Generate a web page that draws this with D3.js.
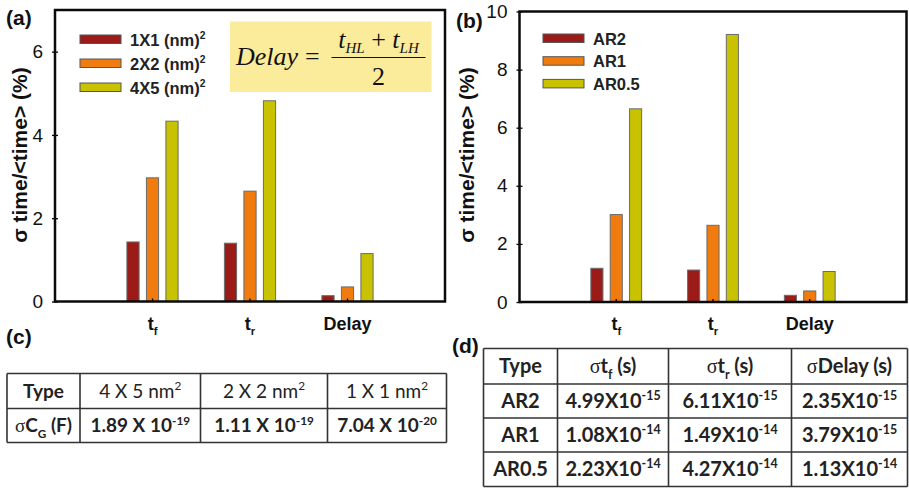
<!DOCTYPE html>
<html><head><meta charset="utf-8">
<script src="https://cdn.jsdelivr.net/npm/d3@7"></script>
<style>
html,body{margin:0;padding:0;background:#fff;}
svg{display:block;}
</style></head>
<body>
<script>
// ---------- DATA ----------
const categories = ["t_{f}", "t_{r}", "Delay"];
const seriesA = ["1X1 (nm)^{2}", "2X2 (nm)^{2}", "4X5 (nm)^{2}"];
const values1x1 = [1.43, 1.40, 0.14];
const values2x2 = [2.97, 2.65, 0.35];
const values4x5 = [4.33, 4.82, 1.15];
const seriesB = ["AR2", "AR1", "AR0.5"];
const valuesAR2 = [1.16, 1.10, 0.23];
const valuesAR1 = [3.01, 2.64, 0.38];
const valuesAR05 = [6.65, 9.21, 1.05];
const yTicksA = [0, 2, 4, 6];
const yTicksB = [0, 2, 4, 6, 8, 10];
const yTitle = "σ time/<time> (%)";

const tableCHeader = ["Type", "4 X 5 nm^{2}", "2 X 2 nm^{2}", "1 X 1 nm^{2}"];
const tableCRow = ["~{σ}C_{G} (F)", "1.89 X 10^{-19}", "1.11 X 10^{-19}", "7.04 X 10^{-20}"];

const tableDHeader = ["Type", "~{σ}t_{f} (s)", "~{σ}t_{r} (s)", "~{σ}Delay (s)"];
const tableDTypes = ["AR2", "AR1", "AR0.5"];
const tableDtf = ["4.99X10^{-15}", "1.08X10^{-14}", "2.23X10^{-14}"];
const tableDtr = ["6.11X10^{-15}", "1.49X10^{-14}", "4.27X10^{-14}"];
const tableDdelay = ["2.35X10^{-15}", "3.79X10^{-15}", "1.13X10^{-14}"];

const colors = ["#9b1b18", "#f07c10", "#c9c200"];

// ---------- HELPERS ----------
const W = 909, H = 489;
const svg = d3.select("body").append("svg").attr("width", W).attr("height", H);
const SANS = "'Liberation Sans', Arial, sans-serif";
const TAB = "Lato, 'Open Sans', sans-serif";
const SERIF = "'Liberation Serif', 'Times New Roman', serif";

function rich(textSel, str, size, serifFont) {
  const parts = str.split(/(\^\{[^}]*\}|_\{[^}]*\}|~\{[^}]*\})/).filter(s => s.length);
  let off = 0;
  parts.forEach(p => {
    let t, dyTarget = 0, fs = size, fam = null;
    if (p.startsWith("^{")) { t = p.slice(2, -1); dyTarget = -0.4 * size; fs = 0.62 * size; }
    else if (p.startsWith("_{")) { t = p.slice(2, -1); dyTarget = 0.28 * size; fs = 0.62 * size; }
    else if (p.startsWith("~{")) { t = p.slice(2, -1); fam = serifFont || SERIF; }
    else t = p;
    const ts = textSel.append("tspan").text(t).attr("dy", dyTarget - off).attr("font-size", fs);
    if (fam) ts.attr("font-family", fam).attr("font-weight", 400);
    off = dyTarget;
  });
}

// ---------- BAR PANELS ----------
function panel(cfg) {
  const g = svg.append("g");
  const x = d3.scaleLinear().domain([0, 4]).range([cfg.x0, cfg.x1]);
  const y = d3.scaleLinear().domain([0, cfg.ymax]).range([cfg.y0, cfg.y1]);
  const bw = 0.125;

  cfg.series.forEach((vals, si) => {
    g.selectAll(null).data(vals).enter().append("rect")
      .attr("x", (d, i) => x(i + 1 + (si - 1) * 0.2 - bw / 2))
      .attr("width", x(bw) - x(0))
      .attr("y", d => y(d))
      .attr("height", d => y(0) - y(d))
      .attr("fill", colors[si])
      .attr("stroke", "#6b6b6b").attr("stroke-width", 1);
  });

  // y axis
  const ax = g.append("g").attr("transform", `translate(${cfg.x0},0)`)
    .call(d3.axisLeft(y).tickValues(cfg.ticks).tickSize(3).tickPadding(9).tickFormat(d3.format("d")));
  ax.select(".domain").remove();
  ax.selectAll(".tick line").attr("x1", 3).attr("stroke", "#000").attr("stroke-width", 1.3);
  ax.selectAll(".tick text").attr("font-family", SANS).attr("font-size", 19).attr("fill", "#111");

  // x ticks
  g.selectAll(null).data(categories).enter().append("line")
    .attr("x1", (d, i) => x(i + 1)).attr("x2", (d, i) => x(i + 1))
    .attr("y1", y(0)).attr("y2", y(0) - 3).attr("stroke", "#000").attr("stroke-width", 1.3);
  g.selectAll(null).data(categories).enter().append("text")
    .attr("x", (d, i) => x(i + 1)).attr("y", cfg.y0 + 28)
    .attr("text-anchor", "middle").attr("font-family", SANS).attr("font-weight", "bold")
    .attr("font-size", 18).attr("fill", "#111")
    .each(function (d) { rich(d3.select(this), d, 18); });

  // y title
  g.append("text").attr("transform", `translate(${cfg.titleX},155) rotate(-90)`)
    .attr("text-anchor", "middle").attr("dominant-baseline", "central")
    .attr("font-family", SANS).attr("font-weight", "bold").attr("font-size", 21).attr("fill", "#111")
    .text(yTitle);

  // panel label
  g.append("text").attr("x", cfg.labX).attr("y", cfg.labY).attr("font-family", SANS)
    .attr("font-weight", "bold").attr("font-size", 21).attr("fill", "#111").text(cfg.label);

  // legend
  cfg.names.forEach((n, i) => {
    const ly = cfg.legY + i * cfg.legDy;
    g.append("rect").attr("x", cfg.legX).attr("y", ly).attr("width", 41).attr("height", 8.5)
      .attr("fill", colors[i]).attr("stroke", "#555").attr("stroke-width", 1);
    const t = g.append("text").attr("x", cfg.legX + 50).attr("y", ly + 10.5)
      .attr("font-family", SANS).attr("font-weight", "bold").attr("font-size", 16.5).attr("fill", "#222");
    rich(t, n, 16.5);
  });

  // frame on top
  g.append("rect").attr("x", cfg.x0).attr("y", cfg.y1)
    .attr("width", cfg.x1 - cfg.x0).attr("height", cfg.y0 - cfg.y1)
    .attr("fill", "none").attr("stroke", "#0a0a0a").attr("stroke-width", 2.5);
  return { g, x, y };
}

panel({ x0: 55, x1: 445, y0: 301.5, y1: 10, ymax: 7, ticks: yTicksA,
  series: [values1x1, values2x2, values4x5], names: seriesA,
  titleX: 19, label: "(a)", labX: 6, labY: 25, legX: 80, legY: 35, legDy: 24 });
panel({ x0: 519.5, x1: 906.5, y0: 302, y1: 11.5, ymax: 10, ticks: yTicksB,
  series: [valuesAR2, valuesAR1, valuesAR05], names: seriesB,
  titleX: 466, label: "(b)", labX: 456, labY: 28, legX: 543, legY: 34, legDy: 22.7 });

// formula box
const fg = svg.append("g");
fg.append("rect").attr("x", 230).attr("y", 21.5).attr("width", 201.5).attr("height", 70.5).attr("fill", "#fbec9c");
fg.append("text").attr("x", 236).attr("y", 65).attr("font-family", SERIF).attr("font-style", "italic")
  .attr("font-size", 26).attr("fill", "#111").text("Delay");
fg.append("text").attr("x", 305).attr("y", 65).attr("font-family", SERIF)
  .attr("font-size", 26).attr("fill", "#111").text("=");
fg.append("line").attr("x1", 331.5).attr("x2", 425.5).attr("y1", 57.5).attr("y2", 57.5).attr("stroke", "#111").attr("stroke-width", 1.2);
const num = fg.append("text").attr("x", 378.5).attr("y", 48).attr("text-anchor", "middle")
  .attr("font-family", SERIF).attr("font-size", 26).attr("fill", "#111");
num.append("tspan").attr("font-style", "italic").text("t");
num.append("tspan").attr("font-style", "italic").attr("font-size", 15).attr("dy", 5).text("HL");
num.append("tspan").attr("dy", -5).text(" + ");
num.append("tspan").attr("font-style", "italic").text("t");
num.append("tspan").attr("font-style", "italic").attr("font-size", 15).attr("dy", 5).text("LH");
fg.append("text").attr("x", 378.5).attr("y", 85).attr("text-anchor", "middle")
  .attr("font-family", SERIF).attr("font-size", 26).attr("fill", "#111").text("2");

// ---------- TABLES ----------
function table(cols, rows, cells, size, weights) {
  const g = svg.append("g");
  const stroke = "#333";
  rows.forEach(r => g.append("line").attr("x1", cols[0]).attr("x2", cols[cols.length - 1])
    .attr("y1", r).attr("y2", r).attr("stroke", stroke).attr("stroke-width", 1.6));
  cols.forEach(c => g.append("line").attr("x1", c).attr("x2", c)
    .attr("y1", rows[0]).attr("y2", rows[rows.length - 1]).attr("stroke", stroke).attr("stroke-width", 1.6));
  cells.forEach((row, ri) => row.forEach((s, ci) => {
    const t = g.append("text").attr("x", (cols[ci] + cols[ci + 1]) / 2)
      .attr("y", (rows[ri] + rows[ri + 1]) / 2 + size * 0.36)
      .attr("text-anchor", "middle").attr("font-family", TAB)
      .attr("font-weight", weights(ri, ci)).attr("font-size", size).attr("fill", "#222");
    rich(t, s, size, SERIF);
  }));
}

table([7, 80, 200.5, 327.5, 446.5], [373.5, 408.5, 442.5],
  [tableCHeader, tableCRow], 19, (r, c) => (r === 0 && c > 0) ? 400 : 700);
svg.append("text").attr("x", 6).attr("y", 344).attr("font-family", SANS).attr("font-weight", "bold")
  .attr("font-size", 21).attr("fill", "#111").text("(c)");

const dRows = tableDTypes.map((t, i) => [t, tableDtf[i], tableDtr[i], tableDdelay[i]]);
table([483.5, 557.5, 668.5, 791.5, 907.5], [348.5, 384, 418, 452, 486.5],
  [tableDHeader].concat(dRows), 20, (r, c) => 700);
svg.append("text").attr("x", 452).attr("y", 353).attr("font-family", SANS).attr("font-weight", "bold")
  .attr("font-size", 21).attr("fill", "#111").text("(d)");
</script>
</body></html>
